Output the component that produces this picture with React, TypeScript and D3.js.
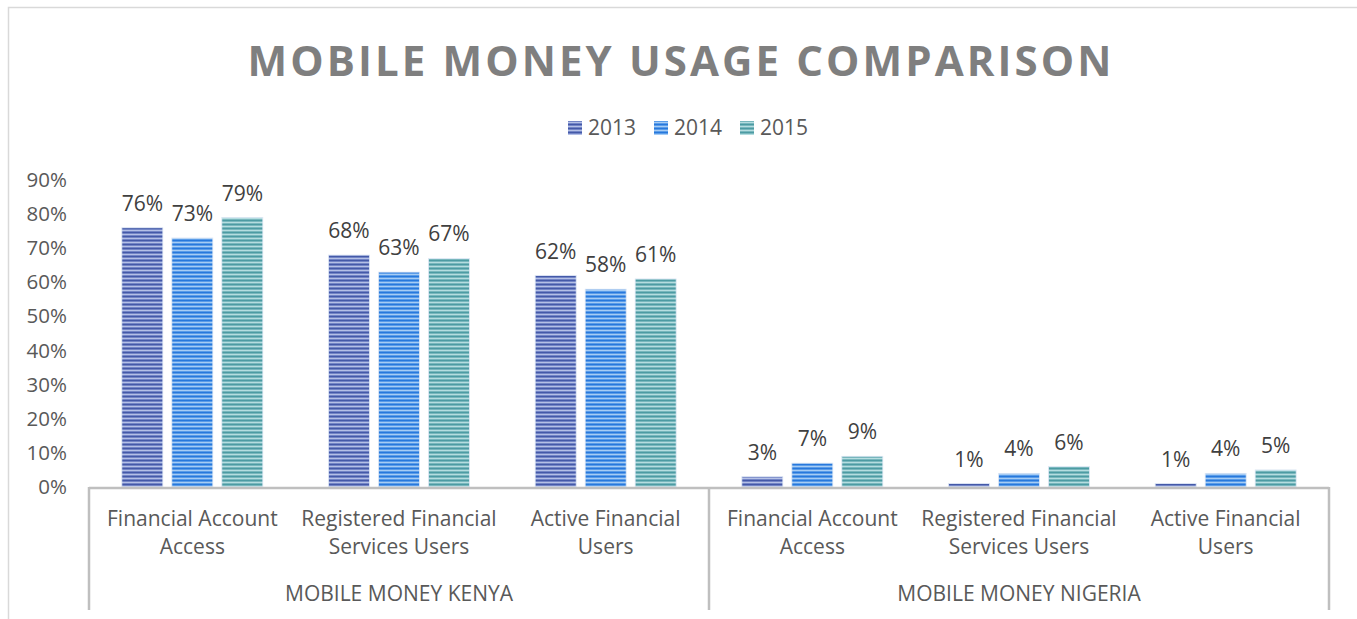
import React, { useEffect, useRef } from 'react';
import * as d3 from 'd3';

// chart data
const groups = ['MOBILE MONEY KENYA', 'MOBILE MONEY NIGERIA'];
const categoryLines = [
  ['Financial Account', 'Access'],
  ['Registered Financial', 'Services Users'],
  ['Active Financial', 'Users'],
];
const series = ['2013', '2014', '2015'];
const values2013 = [76, 68, 62, 3, 1, 1];
const values2014 = [73, 63, 58, 7, 4, 4];
const values2015 = [79, 67, 61, 9, 6, 5];
const yTicks = [0, 10, 20, 30, 40, 50, 60, 70, 80, 90];

// stripe colours: dark, mid, light
const stripes = [
  ['#4459a8', '#7385c6', '#b4c0e6'],
  ['#2778dc', '#5a9ce8', '#a6ccf4'],
  ['#4c9ba3', '#78b7bd', '#b5dde0'],
];

const App = () => {
  const svgRef = useRef<SVGSVGElement>(null);

  useEffect(() => {
    const W = 1357;
    const H = 619;
    const left = 89;
    const right = 1329;
    const y0 = 487;
    const yTop = 180;
    const font = "'Open Sans', sans-serif";

    const svg = d3.select(svgRef.current).attr('width', W).attr('height', H);
    svg.selectAll('*').remove();

    // stripe patterns
    const defs = svg.append('defs');
    stripes.forEach((c, i) => {
      const p = defs
        .append('pattern')
        .attr('id', `stripe${i}`)
        .attr('patternUnits', 'userSpaceOnUse')
        .attr('width', 4)
        .attr('height', 4);
      p.append('rect').attr('width', 4).attr('height', 4).attr('fill', c[0]);
      p.append('rect').attr('y', 1).attr('width', 4).attr('height', 1).attr('fill', c[1]);
      p.append('rect').attr('y', 2).attr('width', 4).attr('height', 1).attr('fill', c[2]);
      p.append('rect').attr('y', 3).attr('width', 4).attr('height', 1).attr('fill', c[1]);
    });

    // outer frame
    svg.append('rect')
      .attr('x', 8.5).attr('y', 7.5).attr('width', 1360).attr('height', 640)
      .attr('fill', 'none').attr('stroke', '#d9d9d9').attr('stroke-width', 1.5);

    // title
    svg.append('text')
      .attr('x', 681).attr('y', 76)
      .attr('text-anchor', 'middle')
      .attr('font-family', font).attr('font-weight', 700).attr('font-size', 42)
      .attr('letter-spacing', 3)
      .attr('textLength', 867).attr('lengthAdjust', 'spacing')
      .attr('fill', '#7f7f7f')
      .text('MOBILE MONEY USAGE COMPARISON');

    // legend
    const legendX = [568, 654, 740];
    series.forEach((s, i) => {
      svg.append('rect')
        .attr('x', legendX[i]).attr('y', 121).attr('width', 14).attr('height', 14)
        .attr('fill', `url(#stripe${i})`);
      svg.append('text')
        .attr('x', legendX[i] + 20).attr('y', 135)
        .attr('font-family', font).attr('font-size', 21).attr('fill', '#595959')
        .text(s);
    });

    // scales
    const cats = d3.range(values2013.length);
    const x = d3.scaleBand<number>().domain(cats).range([left, right]).padding(0);
    const xInner = d3.scaleBand<string>()
      .domain(series)
      .range([0, x.bandwidth()])
      .paddingInner(0.18)
      .paddingOuter(0.657);
    const y = d3.scaleLinear().domain([0, 90]).range([y0, yTop]);

    // y tick labels
    svg.append('g')
      .selectAll('text')
      .data(yTicks)
      .join('text')
      .attr('x', 67)
      .attr('y', (d) => y(d) + 7)
      .attr('text-anchor', 'end')
      .attr('font-family', font).attr('font-size', 20.5).attr('fill', '#595959')
      .text((d) => `${d}%`);

    // bars
    const allSeries = [values2013, values2014, values2015];
    allSeries.forEach((vals, si) => {
      const g = svg.append('g');
      g.selectAll('rect')
        .data(vals)
        .join('rect')
        .attr('x', (v, i) => x(i)! + xInner(series[si])!)
        .attr('y', (v) => y(v))
        .attr('width', xInner.bandwidth())
        .attr('height', (v) => y0 - y(v))
        .attr('fill', `url(#stripe${si})`)
        .attr('stroke', '#dfe8f5')
        .attr('stroke-width', 0.8);
      g.selectAll('text')
        .data(vals)
        .join('text')
        .attr('x', (v, i) => x(i)! + xInner(series[si])! + xInner.bandwidth() / 2)
        .attr('y', (v) => y(v) - 17)
        .attr('text-anchor', 'middle')
        .attr('font-family', font).attr('font-size', 21).attr('fill', '#404040')
        .text((v) => `${v}%`);
    });

    // axis line and separators
    const axisColor = '#bfbfbf';
    svg.append('line')
      .attr('x1', left).attr('x2', right).attr('y1', y0 + 1).attr('y2', y0 + 1)
      .attr('stroke', axisColor).attr('stroke-width', 2.5);
    const sepX = [left, (left + right) / 2, right];
    sepX.forEach((sx) => {
      svg.append('line')
        .attr('x1', sx).attr('x2', sx).attr('y1', y0).attr('y2', 610)
        .attr('stroke', axisColor).attr('stroke-width', 2.5);
    });

    // category labels
    cats.forEach((c) => {
      const lines = categoryLines[c % categoryLines.length];
      const t = svg.append('text')
        .attr('text-anchor', 'middle')
        .attr('font-family', font).attr('font-size', 21).attr('fill', '#595959');
      lines.forEach((ln, li) => {
        t.append('tspan')
          .attr('x', x(c)! + x.bandwidth() / 2)
          .attr('y', 526 + li * 28)
          .text(ln);
      });
    });

    // group labels
    groups.forEach((gName, gi) => {
      svg.append('text')
        .attr('x', x(gi * 3)! + (x.bandwidth() * 3) / 2)
        .attr('y', 601)
        .attr('text-anchor', 'middle')
        .attr('font-family', font).attr('font-size', 21).attr('fill', '#595959')
        .text(gName);
    });
  }, []);

  return (
    <div>
      <svg ref={svgRef} style={{ position: 'absolute', left: 0, top: 0, background: '#fff' }}></svg>
    </div>
  );
};

export default App;
